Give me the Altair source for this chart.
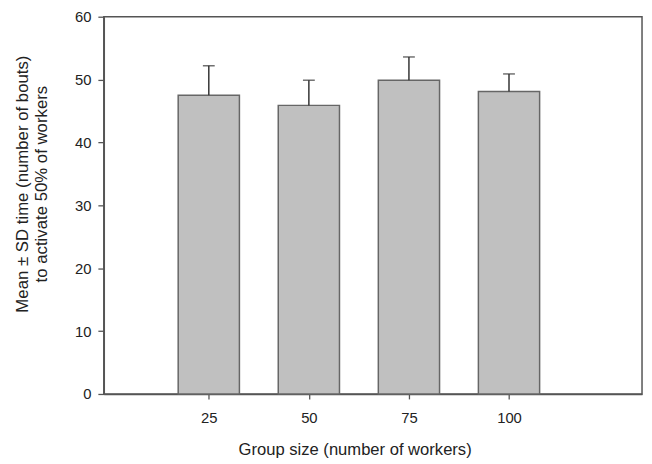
import altair as alt
import pandas as pd

groups = [25, 50, 75, 100]
means = [47.5, 45.9, 49.9, 48.1]
sd_tops = [52.2, 49.9, 53.6, 50.9]

df = pd.DataFrame({"group": groups, "mean": means, "top": sd_tops})

FONT = "Liberation Sans"
xscale = alt.Scale(domain=[0, 132], nice=False, zero=False)
yscale = alt.Scale(domain=[0, 60], nice=False)

xaxis = alt.Axis(values=groups, title="Group size (number of workers)", grid=False,
                 tickSize=5, labelPadding=12, titlePadding=16, labelFontSize=15,
                 titleFontSize=16.8, titleX=254, labelColor="#222", titleColor="#222",
                 domainColor="#555", tickColor="#555", domainWidth=1.5, tickWidth=1.3,
                 labelFont=FONT, titleFont=FONT, titleFontWeight="normal")
yaxis = alt.Axis(values=[0, 10, 20, 30, 40, 50, 60],
                 title=["Mean ± SD time (number of bouts)", "to activate 50% of workers"],
                 grid=False, tickSize=6, labelPadding=7, titlePadding=24, labelFontSize=15,
                 titleFontSize=17, titleLineHeight=20, titleY=169,
                 labelColor="#222", titleColor="#222",
                 domainColor="#555", tickColor="#555", domainWidth=1.5, tickWidth=1.3,
                 labelFont=FONT, titleFont=FONT, titleFontWeight="normal")

base = alt.Chart(df)

bars = base.mark_bar(size=62, color="#c0c0c0", stroke="#666", strokeWidth=1.5).encode(
    x=alt.X("group:Q", scale=xscale, axis=xaxis),
    y=alt.Y("mean:Q", scale=yscale, axis=yaxis),
)

err = base.mark_rule(color="#333", strokeWidth=1.5).encode(
    x="group:Q",
    y="mean:Q",
    y2="top:Q",
)

cap = base.mark_tick(orient="horizontal", size=12, thickness=1.5, color="#333").encode(
    x="group:Q",
    y="top:Q",
)

chart = (bars + err + cap).properties(
    width=545, height=382,
    autosize=alt.AutoSizeParams(type="none"),
    padding={"left": 97, "top": 6, "right": 2, "bottom": 62},
).configure_view(stroke="#555", strokeWidth=1.5)

chart.save("out.html", embed_options={"renderer": "svg", "actions": False})
